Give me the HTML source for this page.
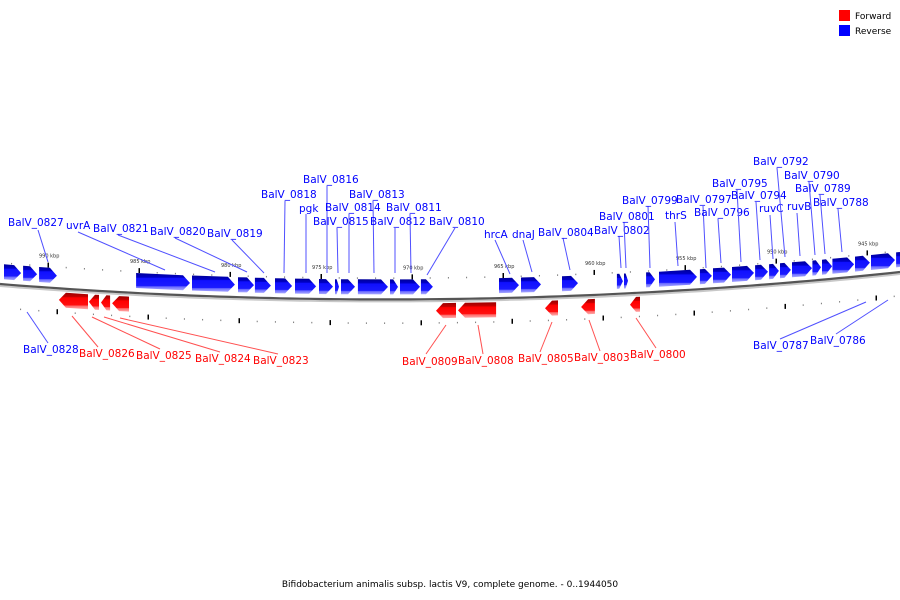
<!DOCTYPE html>
<html><head><meta charset="utf-8"><style>
html,body{margin:0;padding:0;background:#fff;}
svg{display:block;font-family:"DejaVu Sans","Liberation Sans",sans-serif;}
</style></head><body>
<svg id="chart" width="900" height="600" viewBox="0 0 900 600" xmlns="http://www.w3.org/2000/svg">
<defs>
<linearGradient id="gb" x1="0" y1="0" x2="0" y2="1">
<stop offset="0" stop-color="#00009a"/><stop offset="0.25" stop-color="#0000c8"/><stop offset="0.3" stop-color="#1010ff"/><stop offset="0.75" stop-color="#1a1aff"/><stop offset="0.8" stop-color="#6a6aff"/><stop offset="1" stop-color="#a8a8ff"/>
</linearGradient>
<linearGradient id="gr" x1="0" y1="0" x2="0" y2="1">
<stop offset="0" stop-color="#9a0000"/><stop offset="0.25" stop-color="#c80000"/><stop offset="0.3" stop-color="#ff0000"/><stop offset="0.75" stop-color="#ff1010"/><stop offset="0.8" stop-color="#ff6a6a"/><stop offset="1" stop-color="#ffa8a8"/>
</linearGradient>
</defs>
<g id="ticks"></g>
<g id="backbone"></g>
<g id="genes"></g>
<g id="labels" font-size="10.5"></g>
<g font-size="9">
<rect x="839" y="10" width="11" height="11" fill="#ff0000"/>
<text x="855" y="19" fill="#000">Forward</text>
<rect x="839" y="25" width="11" height="11" fill="#0000ff"/>
<text x="855" y="34" fill="#000">Reverse</text>
</g>
<text x="450" y="587" text-anchor="middle" font-size="9" fill="#000">Bifidobacterium animalis subsp. lactis V9, complete genome. - 0..1944050</text>
</svg>
<script>
// gene coordinates in kbp
const reverseStarts=[992.42,991.37,990.49,985.16,982.09,979.56,978.63,977.53,976.43,975.11,974.23,973.90,972.97,971.21,970.66,969.51,965.22,964.01,961.76,958.74,958.35,957.14,956.43,954.18,953.46,952.42,951.15,950.38,949.78,949.12,948.0,947.47,946.9,945.66,944.78,943.4];
const reverseEnds=[991.48,990.60,989.51,982.20,979.73,978.68,977.75,976.59,975.27,974.34,974.01,973.13,971.32,970.77,969.56,968.85,964.12,962.91,960.88,958.41,958.13,956.65,954.34,953.52,952.47,951.21,950.44,949.84,949.18,948.02,947.53,946.92,945.71,944.84,943.46,942.4];
const forwardStarts=[989.40,987.75,987.09,986.48,968.68,967.47,962.69,960.71,958.02];
const forwardEnds=[987.80,987.20,986.59,985.55,967.58,965.38,961.98,959.95,957.47];
const tickKbp=[990,985,980,975,970,965,960,955,950,945];
const tickLabels=["990 kbp","985 kbp","980 kbp","975 kbp","970 kbp","965 kbp","960 kbp","955 kbp","950 kbp","945 kbp"];

const NS="http://www.w3.org/2000/svg";
function xOf(k){return 48+(990-k)*18.2;}
function yOf(x){return 284+0.08*x-0.0001037*x*x;}
function mk(t,a,p){const e=document.createElementNS(NS,t);for(const k in a)e.setAttribute(k,a[k]);p.appendChild(e);return e;}

// backbone
const bb=document.getElementById('backbone');
let d1="",d2="";
for(let x=0;x<=900;x+=10){d1+=(x?"L":"M")+x+","+yOf(x).toFixed(1);d2+=(x?"L":"M")+x+","+(yOf(x)+2).toFixed(1);}
const l2=mk('path',{d:d2,stroke:'#c8c8c8','stroke-width':2,fill:'none'},bb);


const l1=mk('path',{d:d1,stroke:'#555','stroke-width':2.2,fill:'none'},bb);



// ticks
const tg=document.getElementById('ticks');
for(let k=993;k>=942;k-=1){
  const x=xOf(k);if(x<0||x>900)continue;const y=yOf(x);
  const major=(k%5===0);
  const a=mk('rect',{x:x-0.5,y:major?y-25:y-22,width:major?1.5:1,height:major?5:1.5,fill:major?'#000':'#777'},tg);
  
  
  const xb=x+9;const yb=yOf(xb);
  const b=mk('rect',{x:xb-0.5,y:major?yb+21:yb+23,width:major?1.5:1,height:major?5:1.5,fill:major?'#000':'#777'},tg);
  
  
}
tickKbp.forEach((k,i)=>{const x=xOf(k);const t=mk('text',{x:x-9,y:yOf(x)-30,'font-size':5,fill:'#333'},tg);t.textContent=tickLabels[i];
  
  });

// genes
const gg=document.getElementById('genes');
function gene(x1,x2,fwd){
  const ya=yOf(x1),yb=yOf(x2),h=15,hd=Math.min(7,(x2-x1)*0.6);
  let pts;
  if(!fwd){
    const t1=ya-20,t2=yb-20;const xm=x2-hd,ym=yOf(xm)-20;
    pts=[[x1,t1],[xm,ym],[x2,(t2+yb-5)/2+0],[xm,ym+h],[x1,t1+h]];
    pts[2][1]=yOf(x2)-20+h/2;
  }else{
    const xm=x1+hd;
    pts=[[x1,ya+4+h/2],[xm,yOf(xm)+4],[x2,yb+4],[x2,yb+4+h],[xm,yOf(xm)+4+h]];
  }
  const p=mk('polygon',{points:pts.map(q=>q[0].toFixed(1)+","+q[1].toFixed(1)).join(" "),fill:fwd?'url(#gr)':'url(#gb)'},gg);
  return p;
}
reverseStarts.forEach((s,i)=>{const p=gene(xOf(s),Math.min(xOf(reverseEnds[i]),905),false);
  
  });
forwardStarts.forEach((s,i)=>{const p=gene(xOf(s),xOf(forwardEnds[i]),true);
  
  });

// labels: text, x, y, line from, line to, color
const labs=[
["BalV_0827",8,226,38,230,48,262,0],["uvrA",66,229,78,232,165,270,0],["BalV_0821",93,232,118,235,215,272,0],
["BalV_0820",150,235,175,238,247,272,0],["BalV_0819",207,237,232,240,264,273,0],["BalV_0818",261,198,285,201,284,273,0],
["BalV_0816",303,183,327,186,327,273,0],["pgk",299,212,306,214,306,273,0],["BalV_0815",313,225,337,228,338,273,0],
["BalV_0814",325,211,349,214,349,273,0],["BalV_0813",349,198,373,201,374,273,0],["BalV_0812",370,225,395,228,395,273,0],
["BalV_0811",386,211,410,214,411,273,0],["BalV_0810",429,225,455,228,427,275,0],["hrcA",484,238,495,240,510,274,0],
["dnaJ",512,238,523,240,532,272,0],["BalV_0804",538,236,563,238,570,270,0],["BalV_0802",594,234,619,236,621,268,0],
["BalV_0801",599,220,624,222,626,268,0],["BalV_0799",622,204,648,206,650,268,0],["thrS",665,219,675,222,678,266,0],
["BalV_0797",676,203,703,206,706,268,0],["BalV_0796",694,216,718,219,721,263,0],["BalV_0795",712,187,737,190,741,262,0],
["BalV_0794",731,199,756,202,760,260,0],["ruvC",759,212,770,215,773,259,0],["BalV_0792",753,165,777,168,785,257,0],
["ruvB",787,210,797,213,800,256,0],["BalV_0790",784,179,809,182,815,255,0],["BalV_0789",795,192,820,195,825,254,0],
["BalV_0788",813,206,838,209,842,252,0],
["BalV_0828",23,353,48,343,27,312,0],["BalV_0787",753,349,780,339,866,302,0],["BalV_0786",810,344,836,334,888,300,0],
["BalV_0826",79,357,98,347,72,316,1],["BalV_0825",136,359,160,349,92,317,1],["BalV_0824",195,362,220,352,104,317,1],
["BalV_0823",253,364,278,354,120,318,1],["BalV_0809",402,365,426,354,446,325,1],["BalV_0808",458,364,483,354,478,325,1],
["BalV_0805",518,362,540,352,552,322,1],["BalV_0803",574,361,600,351,589,320,1],["BalV_0800",630,358,656,348,636,318,1]
];
const lg=document.getElementById('labels');
labs.forEach(L=>{const c=L[7]?'#ff0000':'#0000ff';
  const ln=mk('line',{x1:L[3],y1:L[4],x2:L[5],y2:L[6],stroke:L[7]?'#ff5050':'#5050ff','stroke-width':1},lg);
  
  
  const t=mk('text',{x:L[1],y:L[2],fill:c},lg);t.textContent=L[0];
  
  
});
</script>
</body></html>
